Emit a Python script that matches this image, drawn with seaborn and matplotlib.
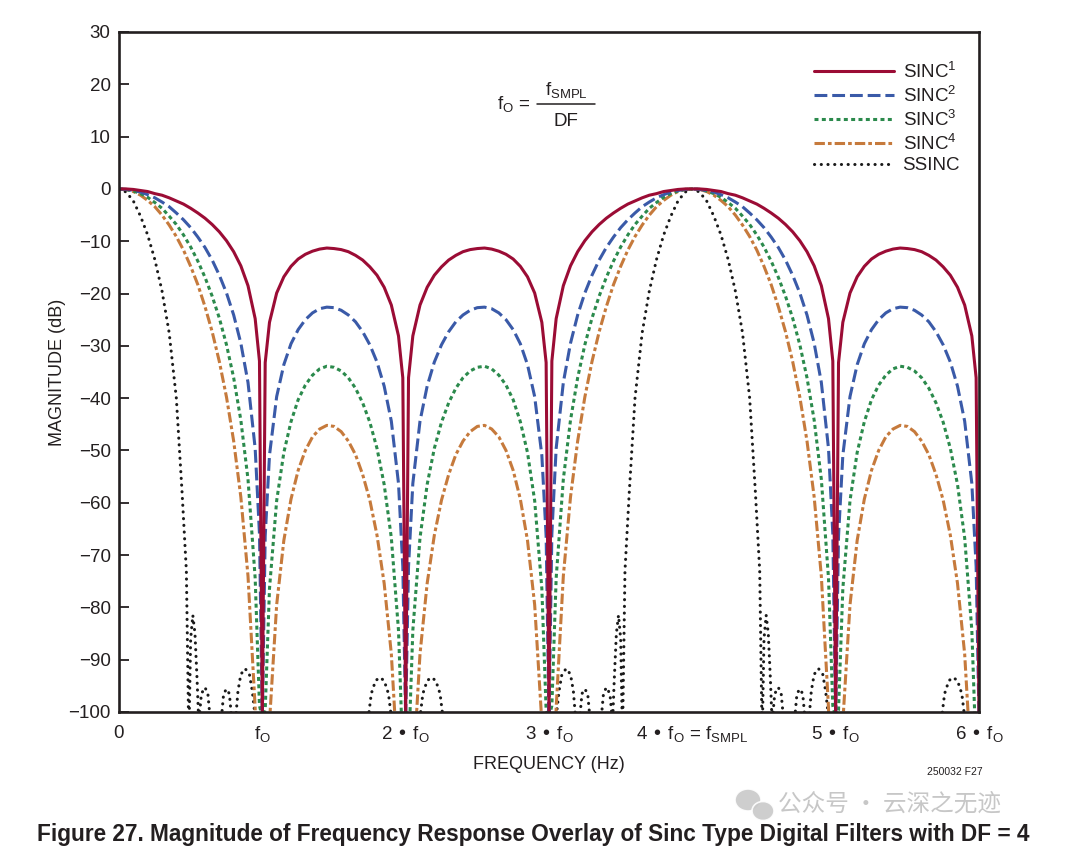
import matplotlib
matplotlib.use("Agg")
import matplotlib.pyplot as plt
import seaborn as sns
import numpy as np
import pandas as pd
from matplotlib.lines import Line2D
from matplotlib.patches import Ellipse
from matplotlib.transforms import IdentityTransform

# ---------------- data ----------------
freq = [0.0, 0.05, 0.1, 0.15, 0.2, 0.25, 0.3, 0.35, 0.4, 0.45, 0.5, 0.55, 0.6, 0.65, 0.7, 0.75, 0.8, 0.85, 0.9, 0.95, 0.98,
        1.0, 1.02, 1.05, 1.1, 1.15, 1.2, 1.25, 1.3, 1.35, 1.4, 1.45, 1.5, 1.55, 1.6, 1.65, 1.7, 1.75, 1.8, 1.85, 1.9, 1.95, 1.98, 2.0,
        2.02, 2.05, 2.1, 2.15, 2.2, 2.25, 2.3, 2.35, 2.4, 2.45, 2.5, 2.55, 2.6, 2.65, 2.7, 2.75, 2.8, 2.85, 2.9, 2.95, 2.98,
        3.0, 3.02, 3.05, 3.1, 3.15, 3.2, 3.25, 3.3, 3.35, 3.4, 3.45, 3.5, 3.55, 3.6, 3.65, 3.7, 3.75, 3.8, 3.85, 3.9, 3.95, 4.0,
        4.05, 4.1, 4.15, 4.2, 4.25, 4.3, 4.35, 4.4, 4.45, 4.5, 4.55, 4.6, 4.65, 4.7, 4.75, 4.8, 4.85, 4.9, 4.95, 4.98,
        5.0, 5.02, 5.05, 5.1, 5.15, 5.2, 5.25, 5.3, 5.35, 5.4, 5.45, 5.5, 5.55, 5.6, 5.65, 5.7, 5.75, 5.8, 5.85, 5.9, 5.95, 5.98, 6.0]

sinc1 = [0.0, -0.0, -0.1, -0.3, -0.5, -0.9, -1.2, -1.7, -2.3, -2.9, -3.7, -4.6, -5.6, -6.8, -8.2, -9.9, -12.0, -14.7, -18.5, -24.8, -32.9,
         -101, -33.2, -25.5, -19.9, -16.8, -14.8, -13.4, -12.5, -11.9, -11.5, -11.3, -11.4, -11.6, -12.0, -12.7, -13.6, -14.9, -16.5, -18.8, -22.2, -28.1, -36.1, -101,
         -36.1, -28.1, -22.2, -18.8, -16.5, -14.9, -13.6, -12.7, -12.0, -11.6, -11.4, -11.3, -11.5, -11.9, -12.5, -13.4, -14.8, -16.8, -19.9, -25.5, -33.2,
         -101, -32.9, -24.8, -18.5, -14.7, -12.0, -9.9, -8.2, -6.8, -5.6, -4.6, -3.7, -2.9, -2.3, -1.7, -1.2, -0.9, -0.5, -0.3, -0.1, -0.0, 0.0,
         -0.0, -0.1, -0.3, -0.5, -0.9, -1.2, -1.7, -2.3, -2.9, -3.7, -4.6, -5.6, -6.8, -8.2, -9.9, -12.0, -14.7, -18.5, -24.8, -32.9,
         -101, -33.2, -25.5, -19.9, -16.8, -14.8, -13.4, -12.5, -11.9, -11.5, -11.3, -11.4, -11.6, -12.0, -12.7, -13.6, -14.9, -16.5, -18.8, -22.2, -28.1, -36.1, -101]

sinc2 = [0.0, -0.1, -0.3, -0.6, -1.1, -1.7, -2.5, -3.4, -4.6, -5.9, -7.4, -9.2, -11.2, -13.6, -16.5, -19.9, -24.1, -29.5, -37.0, -49.6, -65.9,
         -101, -66.4, -50.9, -39.7, -33.6, -29.6, -26.9, -25.0, -23.7, -22.9, -22.6, -22.7, -23.2, -24.1, -25.4, -27.3, -29.8, -33.1, -37.7, -44.4, -56.3, -72.2, -101,
         -72.2, -56.3, -44.4, -37.7, -33.1, -29.8, -27.3, -25.4, -24.1, -23.2, -22.7, -22.6, -22.9, -23.7, -25.0, -26.9, -29.6, -33.6, -39.7, -50.9, -66.4,
         -101, -65.9, -49.6, -37.0, -29.5, -24.1, -19.9, -16.5, -13.6, -11.2, -9.2, -7.4, -5.9, -4.6, -3.4, -2.5, -1.7, -1.1, -0.6, -0.3, -0.1, 0.0,
         -0.1, -0.3, -0.6, -1.1, -1.7, -2.5, -3.4, -4.6, -5.9, -7.4, -9.2, -11.2, -13.6, -16.5, -19.9, -24.1, -29.5, -37.0, -49.6, -65.9,
         -101, -66.4, -50.9, -39.7, -33.6, -29.6, -26.9, -25.0, -23.7, -22.9, -22.6, -22.7, -23.2, -24.1, -25.4, -27.3, -29.8, -33.1, -37.7, -44.4, -56.3, -72.2, -101]

sinc3 = [0.0, -0.1, -0.4, -0.9, -1.6, -2.6, -3.7, -5.2, -6.8, -8.8, -11.1, -13.8, -16.9, -20.5, -24.7, -29.8, -36.1, -44.2, -55.5, -74.4, -98.8,
         -101, -99.6, -76.4, -59.6, -50.4, -44.5, -40.3, -37.5, -35.6, -34.4, -33.9, -34.1, -34.8, -36.1, -38.1, -40.9, -44.6, -49.6, -56.5, -66.7, -84.4, -108.3, -101,
         -108.3, -84.4, -66.7, -56.5, -49.6, -44.6, -40.9, -38.1, -36.1, -34.8, -34.1, -33.9, -34.4, -35.6, -37.5, -40.3, -44.5, -50.4, -59.6, -76.4, -99.6,
         -101, -98.8, -74.4, -55.5, -44.2, -36.1, -29.8, -24.7, -20.5, -16.9, -13.8, -11.1, -8.8, -6.8, -5.2, -3.7, -2.6, -1.6, -0.9, -0.4, -0.1, 0.0,
         -0.1, -0.4, -0.9, -1.6, -2.6, -3.7, -5.2, -6.8, -8.8, -11.1, -13.8, -16.9, -20.5, -24.7, -29.8, -36.1, -44.2, -55.5, -74.4, -98.8,
         -101, -99.6, -76.4, -59.6, -50.4, -44.5, -40.3, -37.5, -35.6, -34.4, -33.9, -34.1, -34.8, -36.1, -38.1, -40.9, -44.6, -49.6, -56.5, -66.7, -84.4, -108.3, -101]

sinc4 = [0.0, -0.1, -0.5, -1.2, -2.2, -3.4, -5.0, -6.9, -9.1, -11.7, -14.8, -18.3, -22.5, -27.3, -33.0, -39.8, -48.2, -58.9, -74.0, -99.2, -131.7,
         -101, -132.8, -101.9, -79.5, -67.2, -59.3, -53.8, -50.0, -47.4, -45.9, -45.2, -45.4, -46.4, -48.2, -50.8, -54.6, -59.5, -66.2, -75.4, -88.9, -112.6, -144.3, -101,
         -144.3, -112.6, -88.9, -75.4, -66.2, -59.5, -54.6, -50.8, -48.2, -46.4, -45.4, -45.2, -45.9, -47.4, -50.0, -53.8, -59.3, -67.2, -79.5, -101.9, -132.8,
         -101, -131.7, -99.2, -74.0, -58.9, -48.2, -39.8, -33.0, -27.3, -22.5, -18.3, -14.8, -11.7, -9.1, -6.9, -5.0, -3.4, -2.2, -1.2, -0.5, -0.1, 0.0,
         -0.1, -0.5, -1.2, -2.2, -3.4, -5.0, -6.9, -9.1, -11.7, -14.8, -18.3, -22.5, -27.3, -33.0, -39.8, -48.2, -58.9, -74.0, -99.2, -131.7,
         -101, -132.8, -101.9, -79.5, -67.2, -59.3, -53.8, -50.0, -47.4, -45.9, -45.2, -45.4, -46.4, -48.2, -50.8, -54.6, -59.5, -66.2, -75.4, -88.9, -112.6, -144.3, -101]

ssinc_freq = [0.0, 0.05, 0.1, 0.15, 0.2, 0.25, 0.3, 0.35, 0.4, 0.44, 0.47, 0.485, 0.49, 0.5, 0.515, 0.53, 0.545, 0.555, 0.56, 0.575,
              0.6, 0.62, 0.635, 0.715, 0.73, 0.75, 0.77, 0.785, 0.815, 0.83, 0.85, 0.88, 0.91, 0.93, 0.95, 1.74, 1.76, 1.79, 1.82, 1.85,
              1.88, 1.9, 2.0,
              2.1, 2.12, 2.15, 2.18, 2.21, 2.24, 2.26, 3.05, 3.07, 3.09, 3.12, 3.15, 3.17, 3.185, 3.215, 3.23, 3.25, 3.27, 3.285, 3.365,
              3.38, 3.4, 3.425, 3.44, 3.445, 3.455, 3.47, 3.485, 3.5, 3.51, 3.515, 3.53, 3.56, 3.6, 3.65, 3.7, 3.75, 3.8, 3.85, 3.9, 3.95, 4.0,
              4.05, 4.1, 4.15, 4.2, 4.25, 4.3, 4.35, 4.4, 4.44, 4.47, 4.485, 4.49, 4.5, 4.515, 4.53, 4.545, 4.555, 4.56, 4.575,
              4.6, 4.62, 4.635, 4.715, 4.73, 4.75, 4.77, 4.785, 4.815, 4.83, 4.85, 4.88, 4.91, 4.93, 4.95, 5.74, 5.76, 5.79, 5.82, 5.85,
              5.88, 5.9, 6.0]
ssinc = [0.0, -0.6, -2.3, -5.2, -8.8, -13.5, -19.5, -27.5, -40.0, -58.0, -73.0, -101, -101, -86.0, -81.5, -85.0, -94.0, -101, -101, -96.5,
         -95.3, -96.5, -101, -101, -96.5, -95.6, -96.5, -101, -101, -96.0, -92.8, -91.7, -92.8, -96.0, -101, -101, -96.5, -94.0, -93.4, -94.0,
         -96.5, -101, -101,
         -101, -96.5, -94.0, -93.4, -94.0, -96.5, -101, -101, -96.0, -92.8, -91.7, -92.8, -96.0, -101, -101, -96.5, -95.6, -96.5, -101, -101,
         -96.5, -95.3, -96.5, -101, -101, -94.0, -85.0, -81.5, -86.0, -101, -101, -73.0, -58.0, -40.0, -27.5, -19.5, -13.5, -8.8, -5.2, -2.3, -0.6, 0.0,
         -0.6, -2.3, -5.2, -8.8, -13.5, -19.5, -27.5, -40.0, -58.0, -73.0, -101, -101, -86.0, -81.5, -85.0, -94.0, -101, -101, -96.5,
         -95.3, -96.5, -101, -101, -96.5, -95.6, -96.5, -101, -101, -96.0, -92.8, -91.7, -92.8, -96.0, -101, -101, -96.5, -94.0, -93.4, -94.0,
         -96.5, -101, -101]

y_ticks = [30, 20, 10, 0, -10, -20, -30, -40, -50, -60, -70, -80, -90, -100]
y_labels = ["30", "20", "10", "0", "\u221210", "\u221220", "\u221230", "\u221240", "\u221250",
            "\u221260", "\u221270", "\u221280", "\u221290", "\u2212100"]
x_ticks = [0, 1, 2, 3, 4, 5, 6]
x_labels = ["0", r"$\mathregular{f_O}$", r"2 • $\mathregular{f_O}$", r"3 • $\mathregular{f_O}$",
            r"4 • $\mathregular{f_O}$ = $\mathregular{f_{SMPL}}$", r"5 • $\mathregular{f_O}$", r"6 • $\mathregular{f_O}$"]
legend_labels = [r"SINC$^{\mathregular{1}}$", r"SINC$^{\mathregular{2}}$", r"SINC$^{\mathregular{3}}$",
                 r"SINC$^{\mathregular{4}}$", "SSINC"]

for arr in (sinc1, sinc2, sinc3, sinc4):
    assert len(arr) == len(freq)
assert len(ssinc) == len(ssinc_freq)

# ---------------- style ----------------
sns.set_theme(style="white")
FONT = ["Liberation Sans Narrow", "Liberation Sans", "DejaVu Sans"]
plt.rcParams["font.family"] = FONT
plt.rcParams["mathtext.default"] = "regular"
INK = "#231f20"

W, H = 1080, 865
fig = plt.figure(figsize=(W / 100, H / 100), dpi=100)
fig.patch.set_facecolor("white")
ax = fig.add_axes([119 / W, 1 - 712 / H, 860 / W, 680 / H])

LW = 2.2
df_main = pd.DataFrame({"f": freq, "s1": sinc1, "s2": sinc2, "s3": sinc3, "s4": sinc4})
df_ss = pd.DataFrame({"f": ssinc_freq, "v": ssinc})

sns.lineplot(data=df_ss, x="f", y="v", ax=ax, color="#1a1a1a", lw=LW, sort=False, estimator=None,
             linestyle=(0, (0.05, 2.15)), dash_capstyle="round", label=legend_labels[4], legend=False)
sns.lineplot(data=df_main, x="f", y="s4", ax=ax, color="#c67a3c", lw=LW, sort=False, estimator=None,
             linestyle=(0, (3.4, 1.0, 1.2, 1.0)), label=legend_labels[3], legend=False)
sns.lineplot(data=df_main, x="f", y="s3", ax=ax, color="#2b8a4c", lw=LW, sort=False, estimator=None,
             linestyle=(0, (1.3, 1.1)), label=legend_labels[2], legend=False)
sns.lineplot(data=df_main, x="f", y="s2", ax=ax, color="#3a5aa8", lw=LW, sort=False, estimator=None,
             linestyle=(0, (4.2, 1.6)), label=legend_labels[1], legend=False)
sns.lineplot(data=df_main, x="f", y="s1", ax=ax, color="#9b0c35", lw=LW, sort=False, estimator=None,
             linestyle="-", label=legend_labels[0], legend=False)

ax.set_xlim(0, 6)
ax.set_ylim(-100, 30)
ax.set_yticks(y_ticks)
ax.set_yticklabels(y_labels)
ax.set_xticks(x_ticks)
ax.set_xticklabels(x_labels)
ax.tick_params(axis="y", direction="in", length=7, width=1.3, color=INK, labelsize=13.5,
               labelcolor=INK, pad=6, left=True, right=False)
ax.tick_params(axis="x", direction="in", length=0, labelsize=13.5, labelcolor=INK, pad=9, bottom=True)
for s in ax.spines.values():
    s.set_visible(True)
    s.set_color(INK)
    s.set_linewidth(1.9)
ax.set_xlabel("FREQUENCY (Hz)", fontsize=13, color=INK, labelpad=8)
ax.set_ylabel("MAGNITUDE (dB)", fontsize=13, color=INK, labelpad=2)
ax.grid(False)

handles = ax.get_lines()[::-1]
leg = ax.legend(handles=handles, labels=legend_labels, loc="upper right", bbox_to_anchor=(0.978, 0.956),
                frameon=False, fontsize=13.5, handlelength=4.3, handletextpad=0.45, labelspacing=0.2,
                borderaxespad=0, borderpad=0)
for t in leg.get_texts():
    t.set_color(INK)

# formula f_O = f_SMPL / DF
def px(x, y):
    return x / W, 1 - y / H

fig.text(*px(497, 104), r"$\mathregular{f_O}$ =", fontsize=13.5, color=INK, ha="left", va="center")
fig.text(*px(566, 90), r"$\mathregular{f_{SMPL}}$", fontsize=13.5, color=INK, ha="center", va="center")
fig.text(*px(566, 121), "DF", fontsize=13.5, color=INK, ha="center", va="center")
fig.add_artist(Line2D([537 / W, 595 / W], [1 - 104 / H, 1 - 104 / H], lw=1.1, color=INK))

fig.text(*px(983, 772), "250032 F27", fontsize=7.5, color=INK, ha="right", va="center")

fig.text(*px(37, 834), "Figure 27. Magnitude of Frequency Response Overlay of Sinc Type Digital Filters with DF = 4",
         fontsize=16.3, fontweight="bold", color=INK, ha="left", va="center")

# watermark
for (cx, cy, w, h) in [(748, 800, 26, 22), (763, 811, 22, 19)]:
    fig.add_artist(Ellipse((cx, H - cy), w, h, transform=IdentityTransform(), facecolor="#c9c9c9",
                           edgecolor="white", lw=1.2, alpha=0.9))
fig.text(*px(778, 804), "公众号 · 云深之无迹", fontsize=17, color="#bdbdbd", alpha=0.85,
         family=["Noto Sans CJK SC", "DejaVu Sans"], ha="left", va="center")

fig.savefig("out.png", dpi=100, facecolor="white")
